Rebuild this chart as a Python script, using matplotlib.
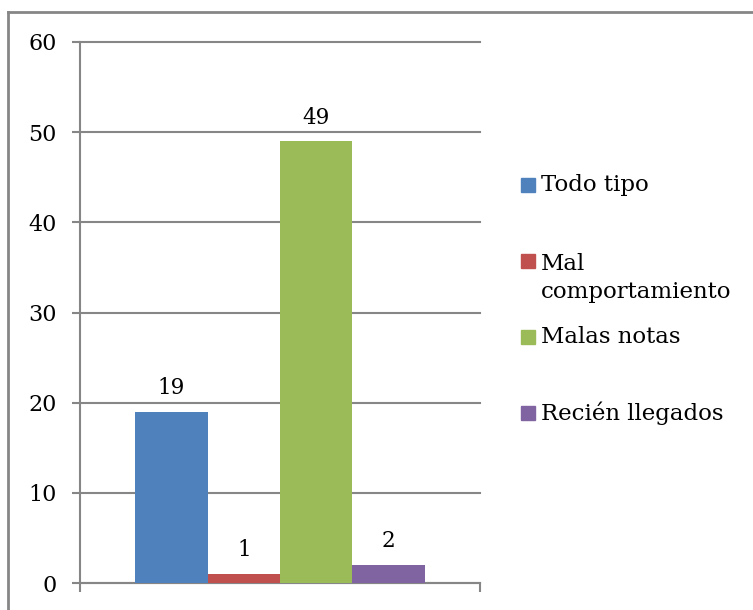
import matplotlib
matplotlib.use("Agg")
import matplotlib.pyplot as plt
from matplotlib.lines import Line2D
from matplotlib.patches import Rectangle

categories = ['Todo tipo', 'Mal\ncomportamiento', 'Malas notas', 'Recién llegados']
values = [19, 1, 49, 2]
colors = ['#4f81bd', '#c0504d', '#9bbb59', '#8064a2']
yticks = [0, 10, 20, 30, 40, 50, 60]

plt.rcParams['font.family'] = ['DejaVu Serif']
GRIS = '#868686'

fig = plt.figure(figsize=(7.53, 6.10), dpi=100)
W, H = 753.0, 610.0

# marco exterior (solo se ven izquierda y arriba)
fig.add_artist(Line2D([8 / W, 8 / W], [0, 1 - 12 / H], transform=fig.transFigure, color=GRIS, lw=2))
fig.add_artist(Line2D([8 / W, 1], [1 - 12 / H, 1 - 12 / H], transform=fig.transFigure, color=GRIS, lw=2))

ax = fig.add_axes([80 / W, 1 - 583 / H, 400 / W, (583 - 42) / H])

w = 0.181
offs = [-1.5 * w, -0.5 * w, 0.5 * w, 1.5 * w]
for i in range(len(values)):
    ax.bar(offs[i], values[i], width=w, color=colors[i], zorder=3)
    ax.annotate(str(values[i]), (offs[i], values[i]), xytext=(0, 17), textcoords='offset points',
                ha='center', va='center', fontsize=15.5, color='black')

ax.set_xlim(-0.5, 0.5)
ax.set_ylim(0, 60)
ax.set_yticks(yticks)
ax.set_xticks([-0.5, 0.5])
ax.set_xticklabels([])
ax.grid(axis='y', color=GRIS, lw=1.5, zorder=0)
for gl in ax.get_ygridlines():
    gl.set_clip_on(False)
for s in ['top', 'right']:
    ax.spines[s].set_visible(False)
for s in ['left', 'bottom']:
    ax.spines[s].set_color(GRIS)
    ax.spines[s].set_linewidth(1.5)
ax.tick_params(axis='y', direction='out', length=6, width=1.5, color=GRIS, pad=11, labelsize=16)
ax.tick_params(axis='x', direction='out', length=6.5, width=1.5, color=GRIS)

# leyenda a mano
ys = [185, 278, 337, 413]
for i in range(len(categories)):
    yc = ys[i]
    yb = 261 if i == 1 else yc
    fig.add_artist(Rectangle((521 / W, 1 - (yb + 7) / H), 14 / W, 14 / H,
                             transform=fig.transFigure, color=colors[i]))
    fig.text(541 / W, 1 - yc / H, categories[i], ha='left', va='center', fontsize=16.5,
             linespacing=1.3)

fig.savefig('out.png', dpi=100)
